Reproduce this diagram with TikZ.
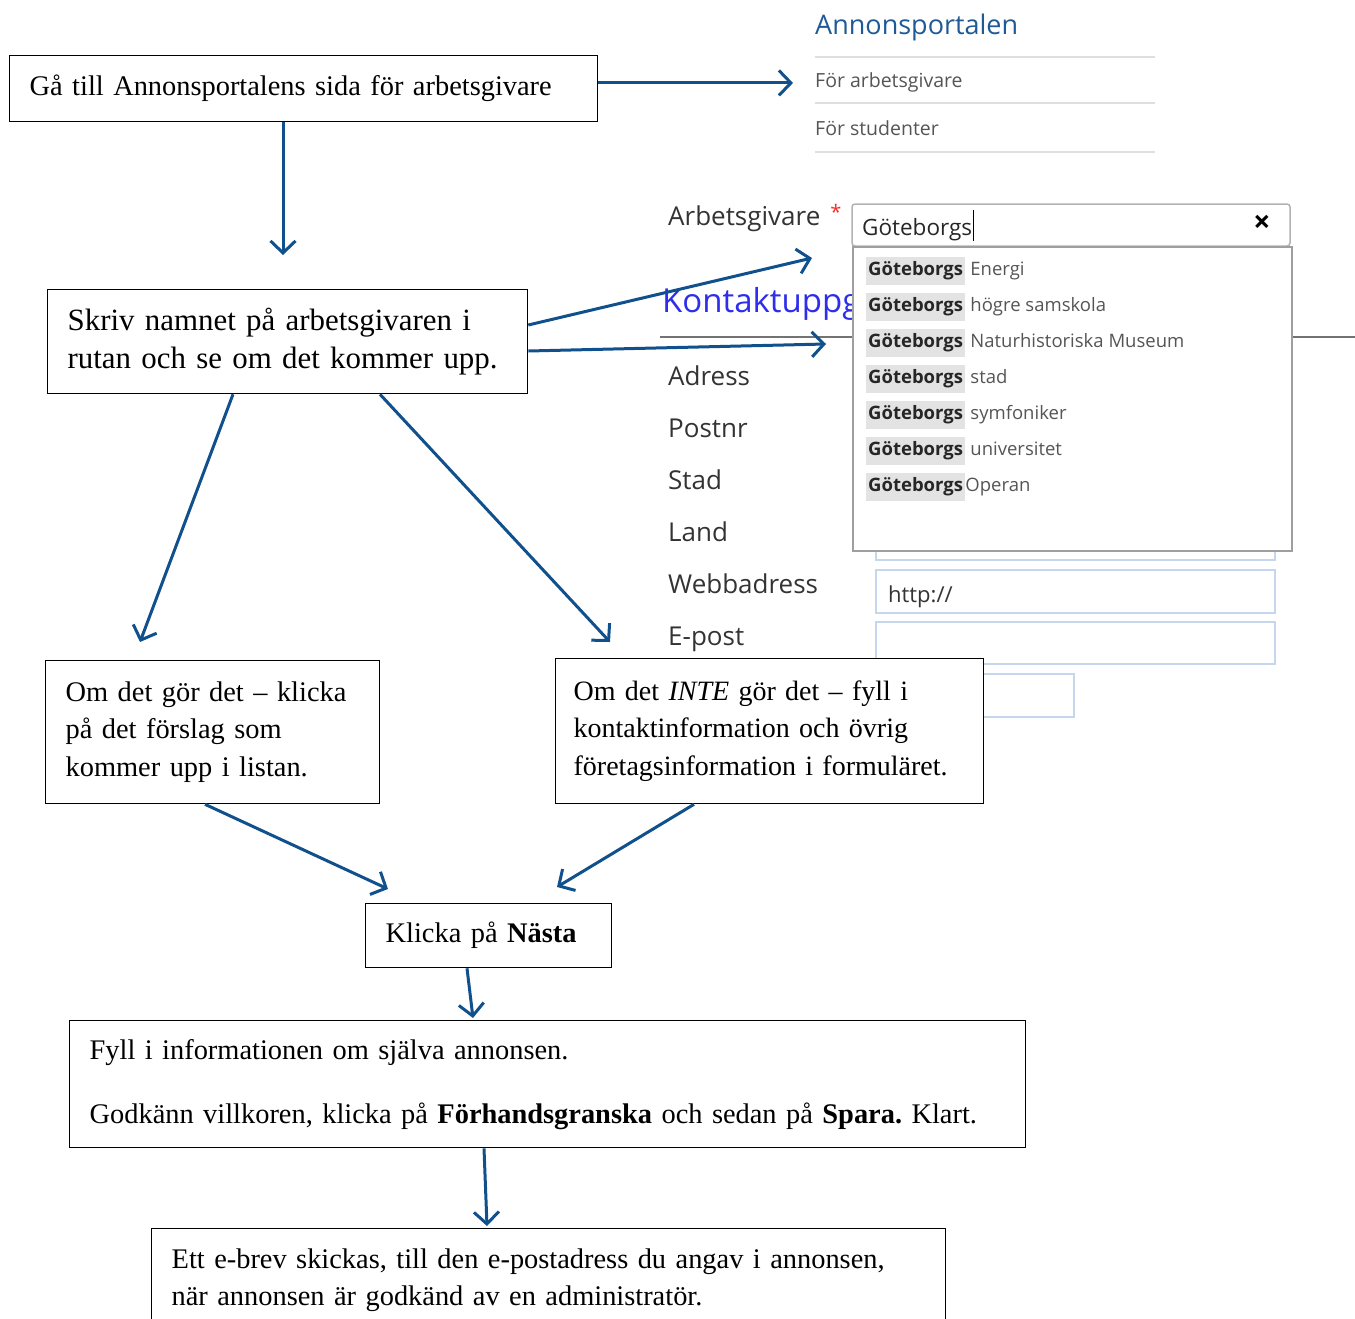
\documentclass[tikz,border=0pt]{standalone}
\usepackage{fontspec}
\setmainfont{Liberation Serif}
\newfontfamily\uifont{Open Sans}
\usetikzlibrary{arrows.meta}
\definecolor{pilblue}{RGB}{16,80,140}
\definecolor{portalblue}{RGB}{31,90,150}
\definecolor{kontaktblue}{RGB}{45,45,235}
\definecolor{labelgray}{RGB}{51,51,51}
\definecolor{menugray}{RGB}{85,85,85}
\definecolor{fieldblue}{RGB}{198,214,236}
\newcommand{\boxfont}{\fontsize{28.4}{37.5}\selectfont}
\frenchspacing

\begin{document}
\begin{tikzpicture}[x=1pt, y=-1pt]
    % Define styles for boxes, screenshot texts and arrows
    \tikzstyle{stepbox} = [rectangle, draw, fill=white, line width=1.3pt, anchor=north west, align=left, inner xsep=20pt, inner ysep=8pt, font=\boxfont]
    \tikzstyle{uitext} = [anchor=base west, inner sep=0pt, text=labelgray]
    \tikzstyle{field} = [draw=fieldblue, line width=2pt]
    \tikzstyle{arrow} = [line width=3pt, draw=pilblue, -{Straight Barb[length=12pt, width=25pt]}]

    \useasboundingbox (0,0) rectangle (1355,1319);

    % Screenshot: menu
    \node (portal) [uitext, text=portalblue, font=\uifont\fontsize{27}{31}\selectfont] at (815,35) {Annonsportalen};
    \foreach \y in {57,103,152} \draw[gray!25, line width=1.5pt] (815,\y) -- (1155,\y);
    \node (arbgiv) [uitext, text=menugray, font=\uifont\fontsize{19.5}{24}\selectfont] at (815,88) {För arbetsgivare};
    \node (student) [uitext, text=menugray, font=\uifont\fontsize{19.5}{24}\selectfont] at (815,136) {För studenter};

    % Screenshot: form
    \node (arbetsgivare) [uitext, font=\uifont\fontsize{26}{30}\selectfont] at (668,225) {Arbetsgivare};
    \node (stjarna) [inner sep=0pt, text=red!85, font=\uifont\fontsize{20}{24}\selectfont] at (836,212) {*};
    \draw[gray!60, line width=1.5pt, rounded corners=3pt] (852,204) rectangle (1290,246);
    \node (sok) [uitext, text=black!85, font=\uifont\fontsize{22.5}{26}\selectfont] at (862,235) {Göteborgs};
    \draw[line width=1.5pt] (sok.base east) ++(1,6) -- ++(0,-31);
    \node (kryss) [inner sep=0pt, font=\uifont\bfseries\fontsize{30}{34}\selectfont] at (1262,224) {×};
    \begin{scope}
        \clip (640,270) rectangle (852,330);
        \node (kontakt) [uitext, text=kontaktblue, font=\uifont\fontsize{33}{38}\selectfont] at (662,312) {Kontaktuppg};
    \end{scope}
    \draw[gray!90!black, line width=2pt] (660,337) -- (1355,337);
    \foreach \lab/\y [count=\i] in {Adress/385, Postnr/437, Stad/489, Land/541, Webbadress/593, E-post/645}
        \node (lab\i) [uitext, font=\uifont\fontsize{26}{30}\selectfont] at (668,\y) {\lab};
    \draw[field] (876,510) rectangle (1275,560);
    \draw[field] (876,570) rectangle (1275,613);
    \draw[field] (876,622) rectangle (1275,664);
    \draw[field] (876,674) rectangle (1074,717);
    \node (http) [uitext, font=\uifont\fontsize{22}{26}\selectfont] at (888,602) {http://};

    % Dropdown list
    \node (lista) [draw=gray!75, line width=2pt, fill=white, anchor=north west, minimum width=439pt, minimum height=304pt, inner sep=0pt] at (852,246) {};
    \foreach \suf/\gap [count=\i from 0] in {Energi/5pt, högre samskola/5pt, Naturhistoriska Museum/5pt, stad/5pt, symfoniker/5pt, universitet/5pt, Operan/0pt}
    {
        \node (hit\i) [fill=gray!22, anchor=west, inner xsep=2pt, minimum height=28pt, text=black!85, font=\uifont\bfseries\fontsize{18.5}{22}\selectfont] at (866,271+36*\i) {Göteborgs};
        \node (rest\i) [uitext, text=menugray, xshift=\gap, font=\uifont\fontsize{18.5}{22}\selectfont] at (hit\i.base east) {\suf};
    }

    % Steps
    \node (gatill) [stepbox, minimum width=588pt, minimum height=66pt, text width=548pt] at (9,55) {Gå till Annonsportalens sida för arbetsgivare};
    \node (skriv) [stepbox, minimum width=480pt, minimum height=104pt, text width=440pt, font=\fontsize{30.9}{38}\selectfont] at (47,289) {Skriv namnet på arbetsgivaren i\\ rutan och se om det kommer upp.};
    \node (finns) [stepbox, minimum width=334pt, minimum height=143pt, text width=294pt] at (45,660) {Om det gör det – klicka\\ på det förslag som\\ kommer upp i listan.};
    \node (finnsinte) [stepbox, minimum width=428pt, minimum height=145pt, text width=392pt, inner xsep=18pt, font=\fontsize{28}{37.5}\selectfont] at (555,658) {Om det \emph{INTE} gör det – fyll i\\ kontaktinformation och övrig\\ företagsinformation i formuläret.};
    \node (nasta) [stepbox, minimum width=246pt, minimum height=64pt, text width=206pt] at (365,903) {Klicka på \textbf{Nästa}};
    \node (fyll) [stepbox, minimum width=956pt, minimum height=127pt, text width=916pt] at (69,1020) {Fyll i informationen om själva annonsen.\\[26.5pt] Godkänn villkoren, klicka på \textbf{Förhandsgranska} och sedan på \textbf{Spara.} Klart.};
    \node (ebrev) [stepbox, minimum width=794pt, text width=754pt, inner ysep=20pt, text depth=110pt] at (151,1228) {Ett e-brev skickas, till den e-postadress du angav i annonsen,\\ när annonsen är godkänd av en administratör.};

    % Arrows
    \draw [arrow] (gatill.east |- arbgiv.west) -- ([xshift=-22pt]arbgiv.west);
    \draw [arrow] ([xshift=274pt]gatill.south west) -- ([xshift=236pt, yshift=34pt]skriv.north west);
    \draw [arrow] ([yshift=-36pt]skriv.north east) -- ([xshift=-40pt, yshift=-12pt]lista.north west);
    \draw [arrow] ([yshift=-62pt]skriv.north east) -- ([xshift=-26pt, yshift=-98pt]lista.north west);
    \draw [arrow] ([xshift=186pt]skriv.south west) -- ([xshift=95pt, yshift=18pt]finns.north west);
    \draw [arrow] ([xshift=333pt]skriv.south west) -- ([xshift=55pt, yshift=16pt]finnsinte.north west);
    \draw [arrow] ([xshift=160pt]finns.south west) -- ([xshift=23pt, yshift=14pt]nasta.north west);
    \draw [arrow] ([xshift=139pt]finnsinte.south west) -- ([xshift=192pt, yshift=16pt]nasta.north west);
    \draw [arrow] ([xshift=102pt]nasta.south west) -- ([xshift=404pt, yshift=2pt]fyll.north west);
    \draw [arrow] ([xshift=415pt]fyll.south west) -- ([xshift=336pt, yshift=2pt]ebrev.north west);

\end{tikzpicture}
\end{document}
